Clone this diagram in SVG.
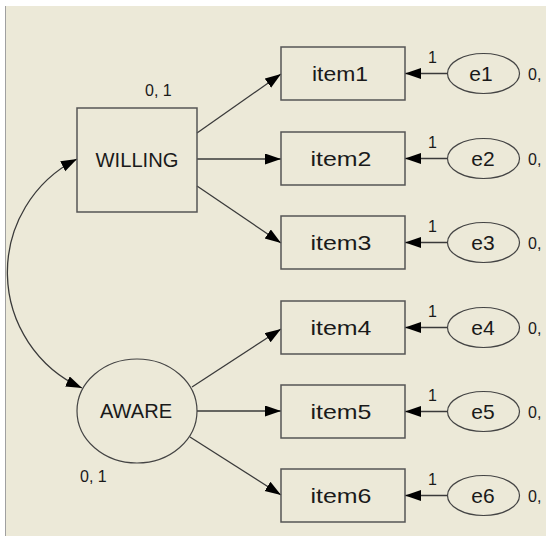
<svg xmlns="http://www.w3.org/2000/svg" width="546" height="536" viewBox="0 0 546 536">
<style>
.box{fill:none;stroke:#555;stroke-width:1.5}
.ell{fill:none;stroke:#444;stroke-width:1.2}
.ln{fill:none;stroke:#3a3a3a;stroke-width:1.3}
.t{font-family:"Liberation Sans",Arial,sans-serif;font-size:21px;fill:#1a1a1a;text-anchor:middle}
.s{font-family:"Liberation Sans",Arial,sans-serif;font-size:16px;fill:#1a1a1a}
</style>
<defs>
<marker id="ah" markerUnits="userSpaceOnUse" markerWidth="17" markerHeight="12" refX="16" refY="5.5" orient="auto-start-reverse">
<path d="M0,0 L16,5.5 L0,11 z" fill="#000"/>
</marker>
</defs>
<rect x="0" y="0" width="546" height="536" fill="#ffffff"/>
<rect x="5" y="6" width="541" height="530" fill="#ece9d8"/>
<line x1="5.5" y1="6" x2="5.5" y2="536" stroke="#a0a0a0" stroke-width="1"/>

<g id="connectors">
<path class="ln" d="M77,159 A127,127 0 0 0 82,388" marker-start="url(#ah)" marker-end="url(#ah)"/>
<line class="ln" x1="197" y1="133" x2="281" y2="74" marker-end="url(#ah)"/>
<line class="ln" x1="197" y1="159" x2="281" y2="159" marker-end="url(#ah)"/>
<line class="ln" x1="197" y1="186" x2="281" y2="243" marker-end="url(#ah)"/>
<line class="ln" x1="192" y1="387" x2="281" y2="329" marker-end="url(#ah)"/>
<line class="ln" x1="197" y1="411" x2="281" y2="411" marker-end="url(#ah)"/>
<line class="ln" x1="190" y1="437" x2="281" y2="495" marker-end="url(#ah)"/>
<line class="ln" x1="447" y1="73.5" x2="405" y2="73.5" marker-end="url(#ah)"/>
<line class="ln" x1="447" y1="158.5" x2="405" y2="158.5" marker-end="url(#ah)"/>
<line class="ln" x1="447" y1="242.5" x2="405" y2="242.5" marker-end="url(#ah)"/>
<line class="ln" x1="447" y1="327.5" x2="405" y2="327.5" marker-end="url(#ah)"/>
<line class="ln" x1="447" y1="411.5" x2="405" y2="411.5" marker-end="url(#ah)"/>
<line class="ln" x1="447" y1="495.5" x2="405" y2="495.5" marker-end="url(#ah)"/>
<text class="s" x="428" y="63">1</text>
<text class="s" x="428" y="148">1</text>
<text class="s" x="428" y="232">1</text>
<text class="s" x="428" y="317">1</text>
<text class="s" x="428" y="401">1</text>
<text class="s" x="428" y="485">1</text>
</g>

<g id="WILLING">
<rect class="box" x="77" y="108" width="120" height="104"/>
<text class="t" x="137" y="167" textLength="83" lengthAdjust="spacingAndGlyphs">WILLING</text>
<text class="s" x="145" y="96">0, 1</text>
</g>
<g id="AWARE">
<ellipse class="ell" cx="137" cy="411" rx="60" ry="52"/>
<text class="t" x="136" y="418" textLength="72" lengthAdjust="spacingAndGlyphs">AWARE</text>
<text class="s" x="80" y="482">0, 1</text>
</g>

<g id="item1"><rect class="box" x="281" y="47" width="124" height="53"/><text class="t" x="340" y="81" textLength="56" lengthAdjust="spacingAndGlyphs">item1</text></g>
<g id="item2"><rect class="box" x="281" y="132" width="124" height="53"/><text class="t" x="341" y="166" textLength="61" lengthAdjust="spacingAndGlyphs">item2</text></g>
<g id="item3"><rect class="box" x="281" y="216" width="124" height="53"/><text class="t" x="341" y="250" textLength="61" lengthAdjust="spacingAndGlyphs">item3</text></g>
<g id="item4"><rect class="box" x="281" y="301" width="124" height="53"/><text class="t" x="341" y="335" textLength="61" lengthAdjust="spacingAndGlyphs">item4</text></g>
<g id="item5"><rect class="box" x="281" y="385" width="124" height="53"/><text class="t" x="341" y="419" textLength="61" lengthAdjust="spacingAndGlyphs">item5</text></g>
<g id="item6"><rect class="box" x="281" y="469" width="124" height="53"/><text class="t" x="341" y="503" textLength="61" lengthAdjust="spacingAndGlyphs">item6</text></g>

<g id="e1"><ellipse class="ell" cx="483.5" cy="73.5" rx="36" ry="20"/><text class="t" x="481" y="81">e1</text><text class="s" x="528" y="80">0,</text></g>
<g id="e2"><ellipse class="ell" cx="483.5" cy="158.5" rx="36" ry="20"/><text class="t" x="483" y="166">e2</text><text class="s" x="528" y="165">0,</text></g>
<g id="e3"><ellipse class="ell" cx="483.5" cy="242.5" rx="36" ry="20"/><text class="t" x="483" y="250">e3</text><text class="s" x="528" y="249">0,</text></g>
<g id="e4"><ellipse class="ell" cx="483.5" cy="327.5" rx="36" ry="20"/><text class="t" x="483" y="335">e4</text><text class="s" x="528" y="334">0,</text></g>
<g id="e5"><ellipse class="ell" cx="483.5" cy="411.5" rx="36" ry="20"/><text class="t" x="483" y="419">e5</text><text class="s" x="528" y="418">0,</text></g>
<g id="e6"><ellipse class="ell" cx="483.5" cy="495.5" rx="36" ry="20"/><text class="t" x="483" y="503">e6</text><text class="s" x="528" y="502">0,</text></g>
</svg>
